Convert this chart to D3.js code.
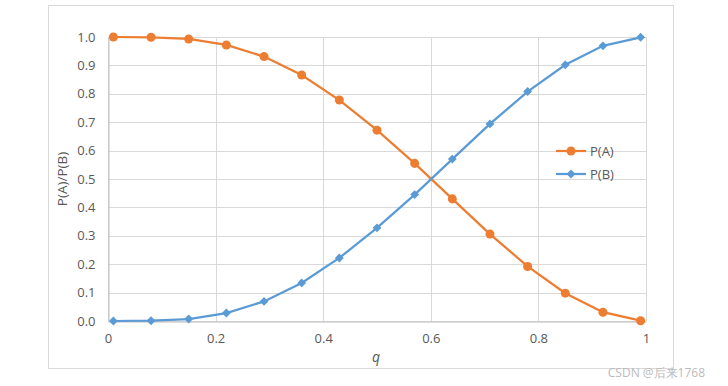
<!DOCTYPE html>
<html>
<head>
<meta charset="utf-8">
<script src="https://cdn.jsdelivr.net/npm/d3@7"></script>
<style>
  body { margin: 0; background: #fff; }
  text { font-family: "Open Sans", "Liberation Sans", sans-serif; }
</style>
</head>
<body>
<div id="chart"></div>
<script>
// data
const qValues = [0.01, 0.08, 0.15, 0.22, 0.29, 0.36, 0.43, 0.50, 0.57, 0.64, 0.71, 0.78, 0.85, 0.92, 0.99];
const pA = [1.0, 0.999, 0.993, 0.972, 0.931, 0.866, 0.778, 0.672, 0.555, 0.430, 0.306, 0.192, 0.098, 0.031, 0.001];
const pB = [0.0, 0.001, 0.007, 0.028, 0.069, 0.134, 0.222, 0.328, 0.445, 0.570, 0.694, 0.808, 0.902, 0.969, 0.999];
const xTicks = [0, 0.2, 0.4, 0.6, 0.8, 1];
const yTicks = [0, 0.1, 0.2, 0.3, 0.4, 0.5, 0.6, 0.7, 0.8, 0.9, 1.0];
const seriesNames = ["P(A)", "P(B)"];

const width = 728;
const height = 386;
const plot = { left: 108, right: 646, top: 37, bottom: 321 };

const svg = d3.select("#chart").append("svg")
  .attr("width", width)
  .attr("height", height);

// chart frame
svg.append("rect")
  .attr("x", 48.5).attr("y", 5.5)
  .attr("width", 625).attr("height", 363)
  .attr("fill", "#fff")
  .attr("stroke", "#d9d9d9");

const x = d3.scaleLinear().domain([0, 1]).range([plot.left, plot.right]);
const y = d3.scaleLinear().domain([0, 1]).range([plot.bottom, plot.top]);

// grid lines
svg.append("g").selectAll("line")
  .data(yTicks)
  .join("line")
  .attr("x1", plot.left).attr("x2", plot.right)
  .attr("y1", d => Math.round(y(d)) + 0.5)
  .attr("y2", d => Math.round(y(d)) + 0.5)
  .attr("stroke", "#d9d9d9");

svg.append("g").selectAll("line")
  .data(xTicks)
  .join("line")
  .attr("x1", d => Math.round(x(d)) + 0.5)
  .attr("x2", d => Math.round(x(d)) + 0.5)
  .attr("y1", plot.top).attr("y2", plot.bottom)
  .attr("stroke", "#d9d9d9");

// axes
const xAxis = svg.append("g")
  .attr("transform", `translate(0,${Math.round(y(0)) + 0.5})`)
  .call(d3.axisBottom(x).tickValues(xTicks).tickSize(0).tickPadding(12).tickFormat(d3.format("")));
xAxis.select(".domain").attr("stroke", "#bfbfbf");
xAxis.selectAll("text").attr("fill", "#595959").attr("font-size", 13);

const yAxis = svg.append("g")
  .attr("transform", `translate(${Math.round(x(0)) + 0.5},0)`)
  .call(d3.axisLeft(y).tickValues(yTicks).tickSize(0).tickPadding(13).tickFormat(d3.format(".1f")));
yAxis.select(".domain").attr("stroke", "#bfbfbf");
yAxis.selectAll("text").attr("fill", "#595959").attr("font-size", 13);

// axis titles
svg.append("text")
  .attr("x", 376).attr("y", 362)
  .attr("text-anchor", "middle")
  .attr("font-size", 14)
  .attr("font-style", "italic")
  .attr("fill", "#595959")
  .text("q");

svg.append("text")
  .attr("transform", "translate(67,179) rotate(-90)")
  .attr("text-anchor", "middle")
  .attr("font-size", 13.5)
  .attr("fill", "#595959")
  .text("P(A)/P(B)");

// series
const colors = ["#ED7D31", "#5B9BD5"];
const line = d3.line().x((d, i) => x(qValues[i])).y(d => y(d));

svg.append("path").datum(pA)
  .attr("d", line).attr("fill", "none")
  .attr("stroke", colors[0]).attr("stroke-width", 2.25);

svg.append("path").datum(pB)
  .attr("d", line).attr("fill", "none")
  .attr("stroke", colors[1]).attr("stroke-width", 2.25);

const circle = d3.symbol().type(d3.symbolCircle).size(64);
const diamond = d3.symbol().type(d3.symbolDiamond2).size(50);

svg.append("g").selectAll("path")
  .data(pA)
  .join("path")
  .attr("transform", (d, i) => `translate(${x(qValues[i])},${y(d)})`)
  .attr("d", circle)
  .attr("fill", colors[0]);

svg.append("g").selectAll("path")
  .data(pB)
  .join("path")
  .attr("transform", (d, i) => `translate(${x(qValues[i])},${y(d)})`)
  .attr("d", diamond)
  .attr("fill", colors[1]);

// legend
const legend = svg.append("g").attr("transform", "translate(556,151)");
seriesNames.forEach((name, i) => {
  const g = legend.append("g").attr("transform", `translate(0,${i * 23})`);
  g.append("line").attr("x1", 0).attr("x2", 30)
    .attr("stroke", colors[i]).attr("stroke-width", 2.25);
  g.append("path")
    .attr("transform", "translate(15,0)")
    .attr("d", i === 0 ? circle : diamond)
    .attr("fill", colors[i]);
  g.append("text")
    .attr("x", 34).attr("y", 4.5)
    .attr("font-size", 13)
    .attr("fill", "#595959")
    .text(name);
});

// watermark
svg.append("text")
  .attr("x", 705).attr("y", 377)
  .attr("text-anchor", "end")
  .attr("font-size", 12)
  .attr("fill", "#bbbbbb")
  .attr("font-family", "Noto Sans CJK SC, sans-serif")
  .text("CSDN @后来1768");
</script>
</body>
</html>
